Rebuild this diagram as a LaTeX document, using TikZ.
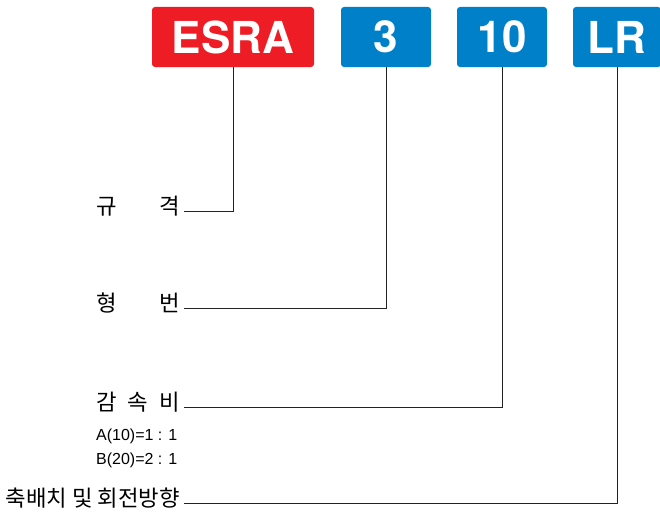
\documentclass[tikz,border=0pt]{standalone}
\usepackage{fontspec}
\setmainfont{TeX Gyre Heros}
\newfontfamily\kr{Noto Sans CJK KR}
\newfontfamily\narrowfont{Liberation Sans}
\definecolor{esred}{HTML}{EE1C25}
\definecolor{esblue}{HTML}{0080C8}
\definecolor{lineg}{HTML}{222222}
\begin{document}
\begin{tikzpicture}[x=1pt,y=-1pt,
  codebox/.style={rounded corners=3pt, minimum height=60pt, inner sep=0pt,
    text=white, font=\fontsize{44}{44}\selectfont\bfseries},
  krlabel/.style={anchor=east, inner sep=0pt, outer sep=0pt,
    font=\kr\fontsize{22.3}{22.3}\selectfont, text height=0.88em, text depth=0.12em},
  ratio/.style={anchor=west, inner sep=0pt, font=\narrowfont\fontsize{16}{16}\selectfont},
  conn/.style={draw=lineg, line width=0.9pt}]
\useasboundingbox (0,0) rectangle (660,519);
% code boxes
\node[codebox, fill=esred, minimum width=162pt] (esra) at (233,37) {ESRA};
\node[codebox, fill=esblue, minimum width=90pt] (three) at (386,37) {3};
\node[codebox, fill=esblue, minimum width=90pt] (ten) at (502,37) {10};
\node[codebox, fill=esblue, minimum width=88pt] (lr) at (617,37) {LR};
% labels
\node[krlabel] (gyu) at (180,211) {\makebox[84pt][s]{규\hfill 격}};
\node[krlabel] (hyung) at (180,308) {\makebox[84pt][s]{형\hfill 번}};
\node[krlabel] (gam) at (180,407) {\makebox[84pt][s]{감\hfill 속\hfill 비}};
\node[krlabel] (chuk) at (180,503) {축배치 및 회전방향};
\node[ratio] (ra) at (96,436) {A(10)=1 : 1};
\node[ratio] (rb) at (96,460) {B(20)=2 : 1};
% end points
\coordinate (g1) at (184,211);
\coordinate (h1) at (184,308);
\coordinate (k1) at (184,407);
\coordinate (c1) at (184,503);
% connectors
\draw[conn] (esra.south) |- (g1);
\draw[conn] (three.south) |- (h1);
\draw[conn] (ten.south) |- (k1);
\draw[conn] (lr.south) |- (c1);
\end{tikzpicture}
\end{document}
